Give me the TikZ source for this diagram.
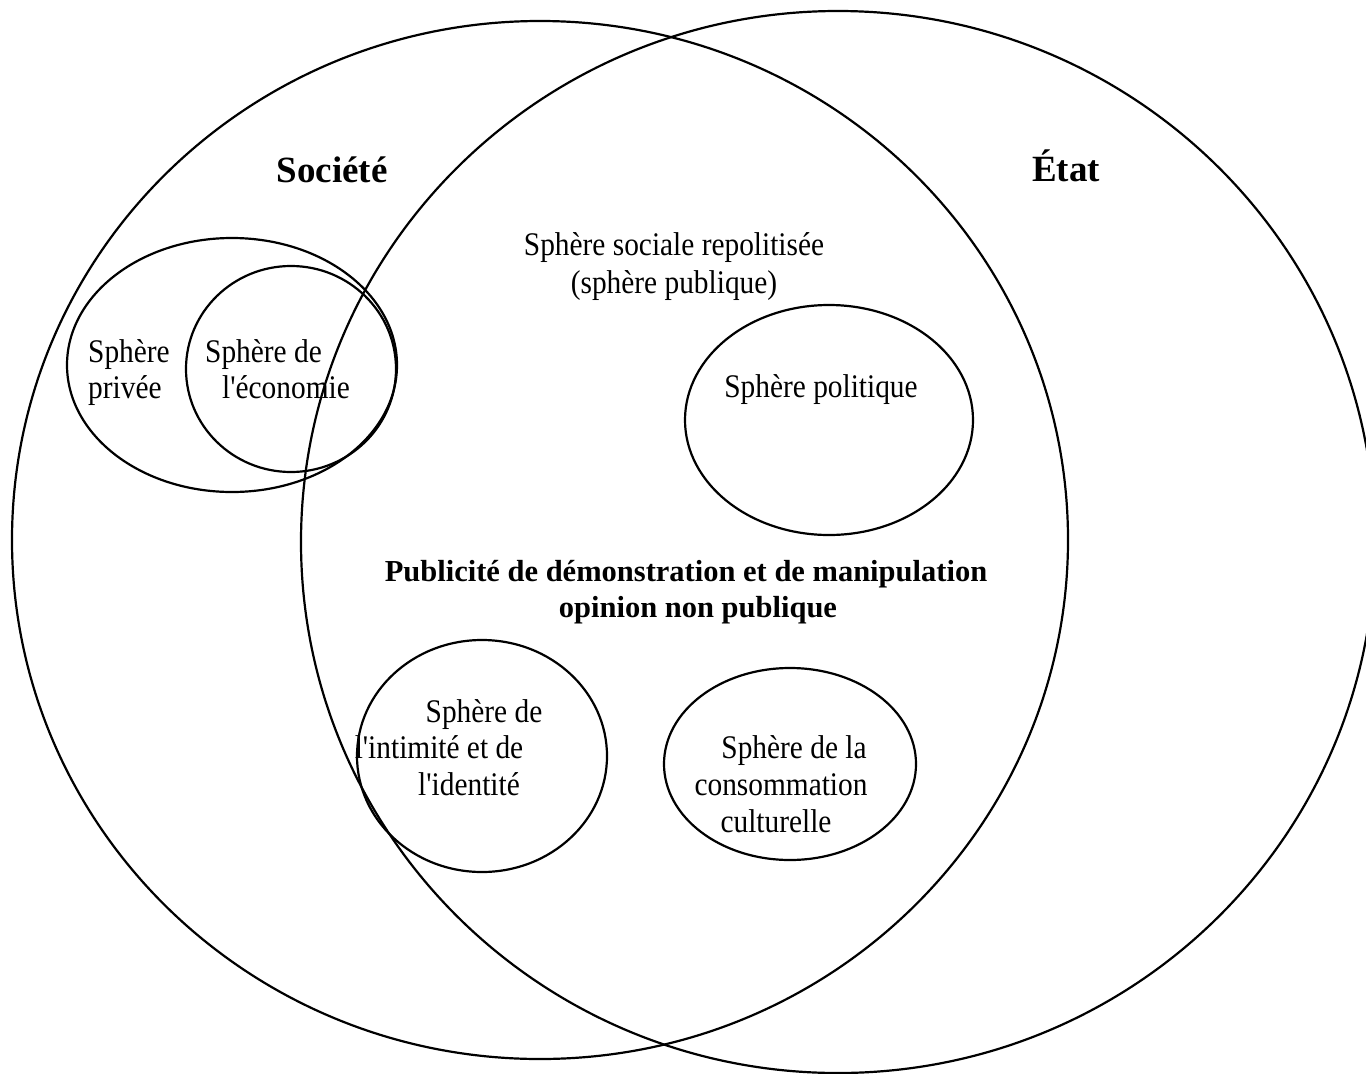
\documentclass[tikz,border=0pt]{standalone}
\usepackage{fontspec}
\setmainfont{Liberation Serif}
\newfontfamily\narrowserif{Liberation Serif}[FakeStretch=0.89]
\usetikzlibrary{shapes.geometric}
\tikzset{
  ring/.style={draw, ellipse, line width=2.2pt, inner sep=0pt, outer sep=0pt},
  lbl/.style={anchor=base, inner sep=0pt, font=\narrowserif\fontsize{33}{38}\selectfont},
  title/.style={anchor=base, inner sep=0pt, font=\bfseries\fontsize{37}{44}\selectfont},
  boldlbl/.style={anchor=base, inner sep=0pt, font=\bfseries\fontsize{30.5}{36}\selectfont},
}
\begin{document}
\begin{tikzpicture}[x=1pt,y=-1pt]
\useasboundingbox (0,0) rectangle (1366,1074);
\clip (0,0) rectangle (1366,1074);

% the two large spheres
\node[ring, minimum width=1056pt, minimum height=1038pt] (societe) at (540,540) {};
\node[ring, minimum width=1074pt, minimum height=1062pt] (etat) at (838,542) {};

% private sphere and economy
\node[ring, minimum width=330pt, minimum height=254pt] (privee) at (232,365) {};
\node[ring, minimum width=210pt, minimum height=206pt] (economie) at (291,369) {};

% inner spheres of the public sphere
\node[ring, minimum width=288pt, minimum height=230pt] (politique) at (829,420) {};
\node[ring, minimum width=250pt, minimum height=232pt] (intimite) at (482,756) {};
\node[ring, minimum width=252pt, minimum height=192pt] (conso) at (790,764) {};

% titles
\node[title] (tSociete) at (332,182) {Société};
\node[title] (tEtat) at (1066,181) {État};

% labels
\node[lbl] (tSociale1) at (674,255) {Sphère sociale repolitisée};
\node[lbl] (tSociale2) at (674,293) {(sphère publique)};

\node[lbl, anchor=base west] (tPrivee1) at (88,362) {Sphère};
\node[lbl, anchor=base west] (tPrivee2) at (88,398) {privée};

\node[lbl, anchor=base west] (tEco1) at (205,362) {Sphère de};
\node[lbl, anchor=base west] (tEco2) at (222,398) {l'économie};

\node[lbl] (tPolitique) at (821,397) {Sphère politique};

\node[boldlbl] (tPub1) at (686,581) {Publicité de démonstration et de manipulation};
\node[boldlbl] (tPub2) at (698,617) {opinion non publique};

\node[lbl] (tInt1) at (484,722) {Sphère de};
\node[lbl] (tInt2) at (439,758) {l'intimité et de};
\node[lbl] (tInt3) at (469,795) {l'identité};

\node[lbl] (tCons1) at (794,758) {Sphère de la};
\node[lbl] (tCons2) at (781,795) {consommation};
\node[lbl] (tCons3) at (776,832) {culturelle};
\end{tikzpicture}
\end{document}
